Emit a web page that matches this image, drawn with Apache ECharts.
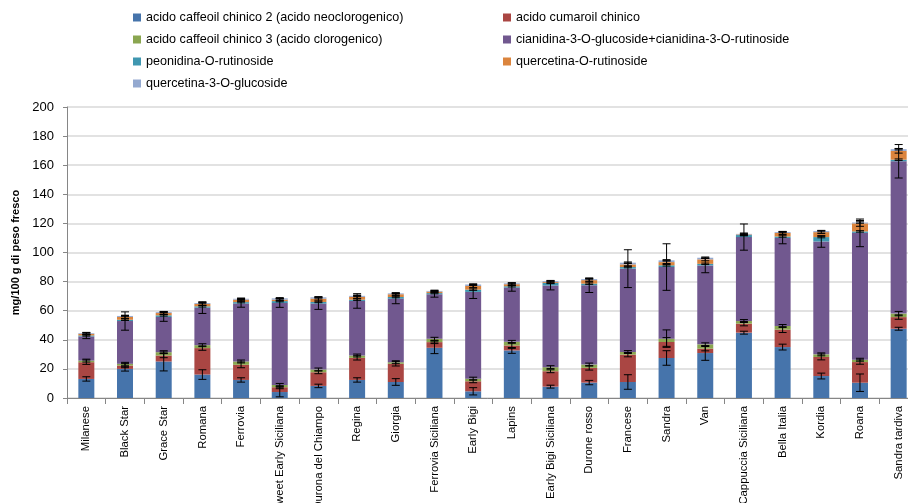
<!DOCTYPE html>
<html>
<head>
<meta charset="utf-8">
<script src="https://cdn.jsdelivr.net/npm/echarts@6/dist/echarts.min.js"></script>
<style>
  html, body { margin: 0; padding: 0; background: #fff; }
  #chart { width: 908px; height: 503px; }
</style>
</head>
<body>
<div id="chart"></div>
<script>
// Cultivar names (x axis)
const categories = [
  'Milanese', 'Black Star', 'Grace Star', 'Romana', 'Ferrovia',
  'Sweet Early Siciliana', 'Durona del Chiampo', 'Regina', 'Giorgia',
  'Ferrovia Siciliana', 'Early Bigi', 'Lapins', 'Early Bigi Siciliana',
  'Durone rosso', 'Francese', 'Sandra', 'Van', 'Cappuccia Siciliana',
  'Bella Italia', 'Kordia', 'Roana', 'Sandra tardiva'
];

const seriesNames = [
  'acido caffeoil chinico 2 (acido neoclorogenico)',
  'acido cumaroil chinico',
  'acido caffeoil chinico 3 (acido clorogenico)',
  'cianidina-3-O-glucoside+cianidina-3-O-rutinoside',
  'peonidina-O-rutinoside',
  'quercetina-O-rutinoside',
  'quercetina-3-O-glucoside'
];

// mg/100 g di peso fresco, one value per cultivar
const neoclorogenico = [13.1, 20.0, 25.1, 16.1, 12.4, 4.1, 8.3, 12.4, 11.0, 34.5, 4.6, 32.7, 7.8, 10.6, 11.0, 27.5, 30.9, 44.9, 35.0, 15.1, 10.5, 47.6];
const cumaroil       = [11.5, 2.3, 4.1, 18.2, 10.4, 3.3, 9.4, 15.2, 12.5, 3.9, 6.9, 3.4, 10.6, 10.1, 18.8, 11.0, 3.0, 6.2, 12.0, 13.1, 14.2, 8.0];
const clorogenico    = [1.1, 1.2, 2.3, 2.0, 2.3, 1.6, 1.9, 1.6, 1.1, 2.3, 1.8, 2.5, 2.8, 2.3, 1.8, 2.3, 3.0, 1.8, 2.5, 1.8, 1.6, 2.4];
const cianidina      = [16.6, 29.4, 24.2, 25.8, 39.8, 56.3, 45.3, 37.5, 43.7, 30.6, 59.6, 37.3, 56.1, 54.5, 57.3, 49.2, 54.2, 57.7, 60.5, 77.6, 87.2, 104.7];
const peonidina      = [0.7, 0.9, 1.1, 0.9, 1.0, 1.3, 1.1, 0.9, 1.1, 0.8, 1.6, 0.9, 1.8, 1.1, 1.1, 1.2, 1.1, 1.4, 1.0, 3.0, 1.0, 1.1];
const querRutinoside = [1.1, 1.9, 1.6, 1.7, 1.7, 1.0, 2.3, 1.9, 1.9, 1.0, 2.5, 1.4, 0.6, 2.4, 1.8, 2.2, 3.1, 0.4, 2.4, 3.4, 5.5, 6.0];
const querGlucoside  = [0.5, 0.7, 0.6, 0.6, 0.6, 0.9, 0.9, 0.7, 0.6, 0.5, 1.0, 0.6, 0.6, 0.7, 1.2, 1.2, 1.1, 0.4, 0.6, 0.7, 0.6, 1.2];

// Standard deviations for each compound
const errNeoclorogenico = [1.5, 1.5, 6.5, 3.3, 1.5, 3.3, 1.2, 1.5, 2.3, 4.0, 2.5, 2.0, 1.0, 1.5, 5.0, 5.0, 5.0, 1.0, 2.0, 2.0, 6.0, 1.0];
const errCumaroil       = [1.5, 1.5, 1.5, 1.5, 2.0, 1.0, 1.0, 1.5, 1.5, 1.0, 1.0, 2.0, 1.0, 1.5, 1.5, 3.0, 1.5, 1.5, 2.0, 2.0, 1.5, 1.5];
const errClorogenico    = [1.0, 1.0, 1.0, 1.0, 1.0, 1.0, 1.0, 1.0, 1.0, 1.0, 1.0, 1.0, 1.0, 1.0, 1.0, 6.0, 1.0, 1.0, 1.0, 1.0, 1.0, 1.5];
const errCianidina      = [1.5, 6.3, 3.0, 4.0, 2.5, 3.0, 4.0, 5.0, 3.5, 2.0, 4.5, 2.5, 3.0, 5.0, 13.0, 16.0, 5.0, 9.0, 4.0, 4.0, 9.5, 11.5];
const errPeonidina      = [0.5, 0.5, 0.5, 0.5, 0.5, 0.5, 0.5, 0.5, 0.5, 0.5, 0.5, 0.5, 0.5, 0.5, 0.5, 0.5, 0.5, 0.5, 0.5, 0.5, 0.5, 0.5];
const errQuerRutinoside = [0.8, 1.0, 1.0, 1.0, 0.8, 0.8, 1.0, 1.0, 0.8, 0.8, 1.0, 0.8, 0.8, 1.0, 1.0, 1.0, 1.0, 0.8, 1.0, 1.0, 2.0, 1.5];
const errQuerGlucoside  = [0.5, 0.5, 0.5, 0.5, 0.5, 0.5, 0.5, 0.5, 0.5, 0.5, 0.5, 0.5, 0.5, 0.5, 0.5, 0.5, 0.5, 0.5, 0.5, 0.5, 0.5, 0.5];

const yTicks = { min: 0, max: 200, interval: 20 };

const colors = ['#4674AB', '#AA4643', '#8AA650', '#71588F', '#3F97B0', '#DB843D', '#94A9D0'];

const values = [neoclorogenico, cumaroil, clorogenico, cianidina, peonidina, querRutinoside, querGlucoside];
const errors = [errNeoclorogenico, errCumaroil, errClorogenico, errCianidina, errPeonidina, errQuerRutinoside, errQuerGlucoside];

// Running totals so each error bar sits on top of its own segment
const stackTops = [];
let running = categories.map(() => 0);
values.forEach(arr => {
  running = running.map((r, i) => r + arr[i]);
  stackTops.push(running.slice());
});

const barSeries = values.map((arr, k) => ({
  name: seriesNames[k],
  type: 'bar',
  stack: 'total',
  barWidth: 16,
  itemStyle: { color: colors[k] },
  data: arr,
  z: 2
}));

const errData = [];
stackTops.forEach((tops, k) => {
  tops.forEach((t, i) => {
    errData.push([i, t - errors[k][i], t + errors[k][i]]);
  });
});

const errorSeries = {
  type: 'custom',
  name: 'errori',
  z: 5,
  silent: true,
  renderItem: function (params, api) {
    const x = api.value(0);
    const lo = api.coord([x, api.value(1)]);
    const hi = api.coord([x, api.value(2)]);
    const half = 4;
    const style = { stroke: '#000', lineWidth: 1 };
    return {
      type: 'group',
      children: [
        { type: 'line', shape: { x1: lo[0], y1: lo[1], x2: hi[0], y2: hi[1] }, style },
        { type: 'line', shape: { x1: lo[0] - half, y1: lo[1], x2: lo[0] + half, y2: lo[1] }, style },
        { type: 'line', shape: { x1: hi[0] - half, y1: hi[1], x2: hi[0] + half, y2: hi[1] }, style }
      ]
    };
  },
  encode: { x: 0, y: [1, 2] },
  data: errData
};

const legendText = { fontFamily: 'Liberation Sans', fontSize: 12.6, color: '#000' };

const chart = echarts.init(document.getElementById('chart'), null, { renderer: 'canvas' });
chart.setOption({
  animation: false,
  backgroundColor: '#fff',
  color: colors,
  legend: [
    {
      orient: 'vertical', left: 128, top: 6,
      itemWidth: 8, itemHeight: 8, itemGap: 9, icon: 'rect',
      textStyle: legendText,
      data: [seriesNames[0], seriesNames[2], seriesNames[4], seriesNames[6]]
    },
    {
      orient: 'vertical', left: 498, top: 6,
      itemWidth: 8, itemHeight: 8, itemGap: 9, icon: 'rect',
      textStyle: legendText,
      data: [seriesNames[1], seriesNames[3], seriesNames[5]]
    }
  ],
  grid: { left: 67, right: -10, top: 107, bottom: 105, outerBoundsMode: 'none', containLabel: false },
  xAxis: {
    type: 'category',
    data: categories,
    axisLine: { lineStyle: { color: '#868686' } },
    axisTick: { show: true, length: 6, lineStyle: { color: '#868686' } },
    axisLabel: {
      rotate: 90, interval: 0, margin: 8,
      fontFamily: 'Liberation Sans', fontSize: 11.3, color: '#000'
    }
  },
  yAxis: {
    type: 'value',
    min: yTicks.min, max: yTicks.max, interval: yTicks.interval,
    name: 'mg/100 g di peso fresco',
    nameLocation: 'middle',
    nameGap: 44,
    nameRotate: 90,
    nameTextStyle: { fontFamily: 'Liberation Sans', fontSize: 11, fontWeight: 'bold', color: '#000' },
    axisLine: { show: true, lineStyle: { color: '#868686' } },
    axisTick: { show: true, length: 4, lineStyle: { color: '#868686' } },
    axisLabel: { fontFamily: 'Liberation Sans', fontSize: 13, color: '#000', margin: 13 },
    splitLine: { lineStyle: { color: '#D9D9D9', width: 1.5 } }
  },
  series: barSeries.concat([errorSeries])
});
</script>
</body>
</html>
